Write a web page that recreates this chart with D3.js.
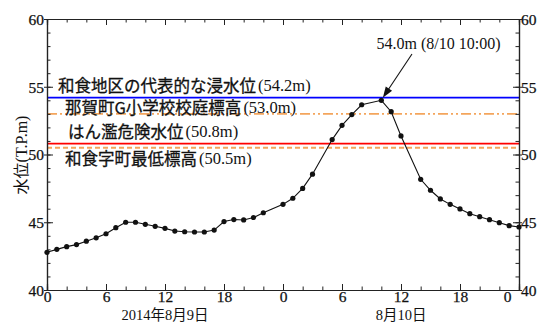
<!DOCTYPE html>
<html><head><meta charset="utf-8">
<script src="https://cdn.jsdelivr.net/npm/d3@7"></script>
<style>body{margin:0;background:#fff}svg{display:block}</style>
</head><body>
<svg id="c" width="544" height="327"></svg>
<script>
// hours since 2014-08-09 00:00
const hours = d3.range(0, 49);
const waterLevel = [42.78,43.0,43.2,43.35,43.6,43.85,44.15,44.6,45.0,45.0,
  44.85,44.7,44.55,44.35,44.3,44.28,44.28,44.42,45.05,45.2,
  45.17,45.35,45.7,null,46.32,46.77,47.5,48.55,null,51.1,
  52.15,52.95,53.67,null,54.0,53.16,51.37,null,48.17,47.36,
  46.72,46.32,45.98,45.63,45.41,45.19,44.97,44.75,44.65];
const xTickValues = [0,6,12,18,24,30,36,42,48];
const xTickLabels = ["0","6","12","18","0","6","12","18","0"];
const yTickValues = [40,45,50,55,60];
const dateLabels = [{h:12,text:["2014","年","8","月","9","日"]},{h:36,text:["8","月","10","日"]}];
const refLevels = [
  {name:"和食地区の代表的な浸水位", v:54.2, color:"#0000ff", dash:null, w:1.6},
  {name:"那賀町G小学校校庭標高", v:53.0, color:"#f4a55c", dash:"10,3,2,3,2,3", w:1.8},
  {name:"はん濫危険水位", v:50.8, color:"#ff0000", dash:null, w:1.8},
  {name:"和食字町最低標高", v:50.5, color:"#f4a55c", dash:"5,3", w:1.8}
];
const labelPos = [{x:58,y:85},{x:65,y:107},{x:68,y:131},{x:65,y:158}];
const peak = {h:34, v:54.0, text:"54.0m (8/10 10:00)"};

const svg = d3.select("#c");
const x = d3.scaleLinear().domain([0,48]).range([47,519]);
const y = d3.scaleLinear().domain([40,60]).range([290,19]);
const serif = "Liberation Serif";
const cjk = "Noto Sans CJK JP";
const axisColor = "#222";

refLevels.forEach(r=>{
  svg.append("line").attr("x1",x(0)).attr("x2",x(48)).attr("y1",y(r.v)).attr("y2",y(r.v))
    .attr("stroke",r.color).attr("stroke-width",r.w).attr("stroke-dasharray",r.dash);
});

function styleAxis(g){
  g.attr("font-family",null).attr("font-size",null);
  g.select(".domain").attr("stroke",axisColor).attr("stroke-width",1.2);
  g.selectAll(".tick line").attr("stroke",axisColor).attr("stroke-width",1);
  g.selectAll("text").style("font-family",serif).style("font-size","15.5px")
    .attr("fill","#111").attr("stroke","#111").attr("stroke-width",0.25);
}
const gL = svg.append("g").attr("transform",`translate(${x(0)},0)`)
  .call(d3.axisLeft(y).tickValues(d3.range(40,61,1)).tickSize(-3.5).tickFormat(""));
styleAxis(gL);
const gLm = svg.append("g").attr("transform",`translate(${x(0)},0)`)
  .call(d3.axisLeft(y).tickValues(yTickValues).tickSize(-6).tickPadding(5).tickFormat(d3.format("d")));
styleAxis(gLm);
gLm.selectAll(".tick").append("line").attr("x1",-3).attr("x2",0).attr("stroke",axisColor);
gLm.selectAll("text").attr("x",-3).attr("dy","0.35em");

const gR = svg.append("g").attr("transform",`translate(${x(48)},0)`)
  .call(d3.axisRight(y).tickValues(d3.range(40,61,1)).tickSize(-3.5).tickFormat(""));
styleAxis(gR);
const gRm = svg.append("g").attr("transform",`translate(${x(48)},0)`)
  .call(d3.axisRight(y).tickValues(yTickValues).tickSize(-6).tickPadding(2).tickFormat(d3.format("d")));
styleAxis(gRm);
gRm.selectAll(".tick").append("line").attr("x1",0).attr("x2",3).attr("stroke",axisColor);
gRm.selectAll("text").attr("x",2).attr("dy","0.35em");

const gB = svg.append("g").attr("transform",`translate(0,${y(40)})`)
  .call(d3.axisBottom(x).tickValues(d3.range(0,49,2)).tickSize(-3.5).tickFormat(""));
styleAxis(gB);
const gBm = svg.append("g").attr("transform",`translate(0,${y(40)})`)
  .call(d3.axisBottom(x).tickValues(xTickValues).tickSize(-6).tickPadding(3)
    .tickFormat((d,i)=>xTickLabels[i]));
styleAxis(gBm);
gBm.selectAll("text").attr("y",1).attr("dy","0.72em");
gBm.selectAll(".tick").filter(d=>d===48).select("text").attr("x",-12);

const gT = svg.append("g").attr("transform",`translate(0,${y(60)})`)
  .call(d3.axisTop(x).tickValues(d3.range(0,49,2)).tickSize(-3.5).tickFormat(""));
styleAxis(gT);
const gTm = svg.append("g").attr("transform",`translate(0,${y(60)})`)
  .call(d3.axisTop(x).tickValues(xTickValues).tickSize(-6).tickFormat(""));
styleAxis(gTm);

dateLabels.forEach(d=>{
  const t = svg.append("text").attr("x",x(d.h)).attr("y",320).attr("text-anchor","middle")
    .style("font-size","14.5px").attr("fill","#111");
  d.text.forEach(s=>{
    t.append("tspan").text(s).style("font-family", /[0-9]/.test(s)?serif:cjk);
  });
});

const yt = svg.append("text").attr("transform","translate(27,155) rotate(-90)")
  .attr("text-anchor","middle").style("font-size","16px").attr("fill","#111");
yt.append("tspan").style("font-family",cjk).text("水位");
yt.append("tspan").style("font-family",serif).text("(T.P.m)");

refLevels.forEach((r,i)=>{
  const t = svg.append("text").attr("x",labelPos[i].x).attr("y",labelPos[i].y)
    .attr("dominant-baseline","central").style("font-size","16.5px").attr("fill","#111");
  t.append("tspan").style("font-family",cjk).attr("stroke","#111").attr("stroke-width",0.3).text(r.name);
  t.append("tspan").style("font-family",serif).attr("dx",2).text(`(${r.v.toFixed(1)}m)`);
});

const pts = hours.map((h,i)=>({h, v: waterLevel[i]})).filter(d=>d.v!==null);
svg.append("path").datum(pts)
  .attr("d", d3.line().x(d=>x(d.h)).y(d=>y(d.v)))
  .attr("fill","none").attr("stroke","#111").attr("stroke-width",1.1);
svg.selectAll("circle.pt").data(pts).join("circle").attr("class","pt")
  .attr("cx",d=>x(d.h)).attr("cy",d=>y(d.v)).attr("r",2.6).attr("fill","#111");

const tipX = x(peak.h)+1.5, tipY = y(peak.v)-2.5;
const sX = 412, sY = 54;
svg.append("line").attr("x1",sX).attr("y1",sY).attr("x2",tipX+4).attr("y2",tipY-6)
  .attr("stroke","#111").attr("stroke-width",1.1);
const ang = Math.atan2(tipY-sY, tipX-sX);
const L=11, W=3.8;
const bx = tipX - L*Math.cos(ang), by = tipY - L*Math.sin(ang);
svg.append("path").attr("d",`M${tipX},${tipY}L${bx - W*Math.sin(ang)},${by + W*Math.cos(ang)}L${bx + W*Math.sin(ang)},${by - W*Math.cos(ang)}Z`)
  .attr("fill","#111");
svg.append("text").attr("x",438.5).attr("y",48.5).attr("text-anchor","middle")
  .style("font-family",serif).style("font-size","16px").attr("fill","#111").text(peak.text);
</script>
</body></html>
